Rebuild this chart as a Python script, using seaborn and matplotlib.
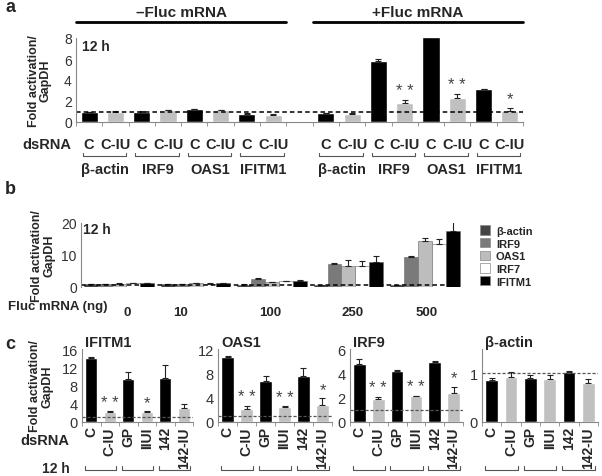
import numpy as np
import pandas as pd
import matplotlib
matplotlib.use('Agg')
import matplotlib.pyplot as plt
import matplotlib.patches as mpatches
import seaborn as sns

# ---- panel a data ----
genes_a = ['β-actin', 'IRF9', 'OAS1', 'IFITM1']
treat_a = ['C', 'C-IU']
minus_c = [0.95, 1.0, 1.2, 0.8]
minus_ciu = [1.0, 1.1, 1.1, 0.7]
minus_c_err = [0.05, 0.05, 0.08, 0.04]
minus_ciu_err = [0.04, 0.06, 0.05, 0.05]
plus_c = [0.83, 5.8, 8.1, 3.1]
plus_ciu = [0.8, 1.8, 2.3, 1.05]
plus_c_err = [0.05, 0.22, 0.1, 0.05]
plus_ciu_err = [0.06, 0.25, 0.35, 0.3]
plus_stars = ['', '* *', '* *', '*']

# ---- panel b data ----
doses = ['0', '10', '100', '250', '500']
genes_b = ['β-actin', 'IRF9', 'OAS1', 'IRF7', 'IFITM1']
b_beta = [0.8, 0.8, 0.7, 0.6, 0.6]
b_irf9 = [0.9, 0.9, 2.6, 7.2, 9.3]
b_oas1 = [1.0, 1.1, 1.6, 6.7, 14.3]
b_irf7 = [1.1, 1.0, 1.8, 6.7, 13.4]
b_ifitm1 = [1.2, 1.2, 2.0, 7.7, 17.4]
b_beta_err = [0.1, 0.1, 0.1, 0.1, 0.1]
b_irf9_err = [0.1, 0.1, 0.2, 0.2, 0.5]
b_oas1_err = [0.1, 0.1, 0.1, 1.8, 1.0]
b_irf7_err = [0.1, 0.1, 0.1, 1.3, 1.6]
b_ifitm1_err = [0.1, 0.1, 0.2, 2.0, 3.3]

# ---- panel c data ----
c_treat = ['C', 'C-IU', 'GP', 'IIUI', '142', '142-IU']
c_ifitm1 = [14.0, 2.2, 9.5, 2.2, 9.6, 3.0]
c_ifitm1_err = [0.15, 0.2, 1.4, 0.15, 2.9, 1.0]
c_ifitm1_stars = ['', '* *', '', '*', '', '']
c_oas1 = [10.7, 2.2, 6.8, 2.4, 7.5, 2.8]
c_oas1_err = [0.15, 0.5, 0.7, 0.2, 1.4, 1.1]
c_oas1_stars = ['', '* *', '', '* *', '', '*']
c_irf9 = [4.8, 1.87, 4.2, 2.1, 4.9, 2.4]
c_irf9_err = [0.4, 0.2, 0.05, 0.05, 0.15, 0.5]
c_irf9_stars = ['', '* *', '', '* *', '', '*']
c_bactin = [0.87, 0.93, 0.9, 0.89, 1.03, 0.8]
c_bactin_err = [0.03, 0.1, 0.07, 0.08, 0.02, 0.09]
c_bactin_stars = ['', '', '', '', '', '']

sns.set_style('white')
plt.rcParams['font.family'] = ['Liberation Sans Narrow', 'Liberation Sans', 'DejaVu Sans']
plt.rcParams['axes.edgecolor'] = '#888888'
plt.rcParams['axes.linewidth'] = 0.8

W, H = 602, 477
fig = plt.figure(figsize=(W / 100, H / 100), dpi=100)


def box(x0, y0, x1, y1):
    # pixel box -> figure fraction
    return [x0 / W, 1 - y1 / H, (x1 - x0) / W, (y1 - y0) / H]


BLACK = '#000000'
GRAY = '#c0c0c0'
ylab = 'Fold activation/\nGapDH'
bold = dict(fontweight='bold')


def bracket(ax, x0, x1, y, h):
    ax.plot([x0, x0, x1, x1], [y + h, y, y, y + h], transform=ax.get_xaxis_transform(),
            clip_on=False, color='#555555', lw=0.8)


# ================= panel a =================
ax = fig.add_axes(box(76, 39, 523, 123))
pos_minus = np.arange(8)
pos_plus = np.arange(9, 17)
rows = []
for i, g in enumerate(genes_a):
    rows.append(dict(pos=pos_minus[2 * i], val=minus_c[i], err=minus_c_err[i], cond='C', star=''))
    rows.append(dict(pos=pos_minus[2 * i + 1], val=minus_ciu[i], err=minus_ciu_err[i], cond='C-IU', star=''))
for i, g in enumerate(genes_a):
    rows.append(dict(pos=pos_plus[2 * i], val=plus_c[i], err=plus_c_err[i], cond='C', star=''))
    rows.append(dict(pos=pos_plus[2 * i + 1], val=plus_ciu[i], err=plus_ciu_err[i], cond='C-IU', star=plus_stars[i]))
df_a = pd.DataFrame(rows)
sns.barplot(data=df_a, x='pos', y='val', hue='cond', palette={'C': BLACK, 'C-IU': GRAY},
            native_scale=True, dodge=False, width=0.65, legend=False, errorbar=None, ax=ax)
ax.errorbar(df_a['pos'], df_a['val'], yerr=[np.zeros(len(df_a)), df_a['err']], fmt='none',
            ecolor='#222222', elinewidth=0.8, capsize=2.5, capthick=0.8)
for _, r in df_a.iterrows():
    if r['star']:
        ax.text(r['pos'], r['val'] + r['err'] + 0.2, r['star'], ha='center', va='bottom',
                fontsize=12, color='#444444')
ax.axhline(1.0, color='black', ls='--', lw=1.1, dashes=(3, 2))
ax.set_xlim(-0.5, 16.5)
ax.set_ylim(0, 8)
ax.set_yticks([0, 2, 4, 6, 8])
ax.set_xticks(np.arange(-0.5, 17, 1), minor=True)
ax.set_xticks([])
ax.tick_params(axis='x', which='minor', length=3, color='#888888', direction='out', bottom=True)
ax.tick_params(axis='y', length=0, labelsize=10, labelcolor='#333333', pad=3)
for s in ['top', 'right']:
    ax.spines[s].set_visible(False)
ax.set_xlabel('')
ax.set_ylabel(ylab, fontsize=9, linespacing=1.0, **bold)
ax.yaxis.set_label_coords(-0.054, 0.5)
ax.text(0.013, 0.9, '12 h', transform=ax.transAxes, fontsize=10, va='center', **bold)
for p, c in zip(df_a['pos'], df_a['cond']):
    ax.text(p, -0.26, c, transform=ax.get_xaxis_transform(), ha='center', va='center',
            fontsize=10.5, **bold)
for grp in (pos_minus, pos_plus):
    for i, g in enumerate(genes_a):
        p0, p1 = grp[2 * i], grp[2 * i + 1]
        bracket(ax, p0 - 0.25, p1 + 0.4, -0.41, 0.04)
        ax.text((p0 + p1) / 2 + 0.1, -0.56, g, transform=ax.get_xaxis_transform(),
                ha='center', va='center', fontsize=10.5, **bold)
for grp, lab in ((pos_minus, '–Fluc mRNA'), (pos_plus, '+Fluc mRNA')):
    ax.plot([grp[0] - 0.5, grp[-1] + 0.5], [1.19, 1.19], transform=ax.get_xaxis_transform(),
            clip_on=False, color='black', lw=2)
    ax.text((grp[0] + grp[-1]) / 2, 1.31, lab, transform=ax.get_xaxis_transform(),
            ha='center', va='center', fontsize=11, **bold)
fig.text(22 / W, 1 - 145 / H, 'dsRNA', fontsize=10.5, va='center', **bold)

# ================= panel b =================
ax = fig.add_axes(box(81, 224, 463, 288))
b_vals = [b_beta, b_irf9, b_oas1, b_irf7, b_ifitm1]
b_errs = [b_beta_err, b_irf9_err, b_oas1_err, b_irf7_err, b_ifitm1_err]
rows = []
for g, v in zip(genes_b, b_vals):
    for d, x in zip(doses, v):
        rows.append(dict(dose=d, gene=g, val=x))
df_b = pd.DataFrame(rows)
b_colors = ['#454545', '#7a7a7a', '#bdbdbd', '#ffffff', '#000000']
sns.barplot(data=df_b, x='dose', y='val', hue='gene', order=doses, hue_order=genes_b,
            palette=b_colors, width=0.91, errorbar=None, legend=False, ax=ax,
            edgecolor='#666666', linewidth=0.4)
for cont, errs in zip(ax.containers, b_errs):
    xs = [b.get_x() + b.get_width() / 2 for b in cont]
    ys = [b.get_height() for b in cont]
    ax.errorbar(xs, ys, yerr=[np.zeros(len(errs)), errs], fmt='none', ecolor='#222222',
                elinewidth=0.8, capsize=2.5, capthick=0.8)
ax.axhline(0.6, color='black', ls='--', lw=1.1, dashes=(3, 2))
ax.set_xlim(-0.5, 4.5)
ax.set_ylim(0, 20)
ax.set_yticks([0, 10, 20])
# dose labels sit a little off the group centres in the original
ax.set_xticks([0.1, 0.8, 1.97, 3.05, 4.03], doses)
ax.tick_params(axis='y', length=0, labelsize=10, labelcolor='#333333', pad=3)
ax.tick_params(axis='x', length=0, pad=14, labelsize=9.5)
for t in ax.get_xticklabels():
    t.set_fontweight('bold')
for s in ['top', 'right', 'bottom']:
    ax.spines[s].set_visible(False)
ax.set_xlabel('')
ax.set_ylabel(ylab, fontsize=9, linespacing=1.0, **bold)
ax.yaxis.set_label_coords(-0.067, 0.5)
ax.text(0.006, 0.9, '12 h', transform=ax.transAxes, fontsize=10, va='center', **bold)
fig.text(8 / W, 1 - 307 / H, 'Fluc mRNA (ng)', fontsize=9.5, va='center', **bold)
handles = [mpatches.Patch(facecolor=c, edgecolor='#888888', linewidth=0.5) for c in b_colors]
ax.legend(handles, genes_b, loc='upper left', bbox_to_anchor=(476 / W, 1 - 222 / H),
          bbox_transform=fig.transFigure, frameon=False, handlelength=0.9, handleheight=0.9,
          labelspacing=0.2, handletextpad=0.5, borderaxespad=0,
          prop=dict(size=8, weight='bold', family=['Liberation Sans Narrow', 'Liberation Sans']))

# ================= panel c =================
c_panels = [
    ('IFITM1', c_ifitm1, c_ifitm1_err, c_ifitm1_stars, 16, [0, 4, 8, 12, 16], (82, 193)),
    ('OAS1', c_oas1, c_oas1_err, c_oas1_stars, 12, [0, 4, 8, 12], (218, 332)),
    ('IRF9', c_irf9, c_irf9_err, c_irf9_stars, 6, [0, 2, 4, 6], (350, 463)),
    ('β-actin', c_bactin, c_bactin_err, c_bactin_stars, 1.5, [0, 1], (482, 598)),
]
c_colors = [BLACK, GRAY, BLACK, GRAY, BLACK, GRAY]
for k, (title, vals, errs, stars, ymax, yt, (x0, x1)) in enumerate(c_panels):
    ax = fig.add_axes(box(x0, 350, x1, 423))
    df_c = pd.DataFrame(dict(treat=c_treat, val=vals, err=errs))
    sns.barplot(data=df_c, x='treat', y='val', hue='treat', palette=c_colors, width=0.67,
                errorbar=None, legend=False, ax=ax)
    xs = np.arange(len(c_treat))
    ax.errorbar(xs, vals, yerr=[np.zeros(len(errs)), errs], fmt='none', ecolor='#222222',
                elinewidth=0.8, capsize=2.5, capthick=0.8)
    for x, v, e, s in zip(xs, vals, errs, stars):
        if s:
            ax.text(x, v + e + ymax * 0.02, s, ha='center', va='bottom', fontsize=12,
                    color='#444444')
    ax.axhline(1.0, color='#555555', ls='--', lw=0.9, dashes=(2.5, 1.5))
    ax.set_xlim(-0.5, 5.5)
    ax.set_ylim(0, ymax)
    ax.set_yticks(yt)
    ax.set_xticks(xs)
    ax.set_xticklabels(c_treat, rotation=90, fontsize=10, fontweight='bold')
    ax.set_xticks(np.arange(-0.5, 6, 1), minor=True)
    ax.tick_params(axis='x', which='major', length=0, pad=3)
    ax.tick_params(axis='x', which='minor', length=3, color='#888888', bottom=True)
    ax.tick_params(axis='y', length=0, labelsize=10.5, labelcolor='#333333', pad=3)
    for s in ['top', 'right']:
        ax.spines[s].set_visible(False)
    ax.set_xlabel('')
    ax.set_ylabel('')
    ax.set_title(title, loc='left', fontsize=10.5, fontweight='bold', pad=2, x=0.03)
    for p in (0, 2, 4):
        bracket(ax, p - 0.35, p + 1.35, -0.655, 0.05)
    if k == 0:
        ax.set_ylabel(ylab, fontsize=9, linespacing=1.0, **bold)
        ax.yaxis.set_label_coords(-0.26, 0.5)
        fig.text(42 / W, 1 - 469 / H, '12 h', fontsize=10, va='center', **bold)
        fig.text(20 / W, 1 - 441 / H, 'dsRNA', fontsize=10.5, va='center', **bold)

fig.text(5 / W, 1 - 8 / H, 'a', fontsize=13, va='center', **bold)
fig.text(5 / W, 1 - 190 / H, 'b', fontsize=13, va='center', **bold)
fig.text(5 / W, 1 - 345 / H, 'c', fontsize=13, va='center', **bold)

fig.savefig('out.png', dpi=100)
